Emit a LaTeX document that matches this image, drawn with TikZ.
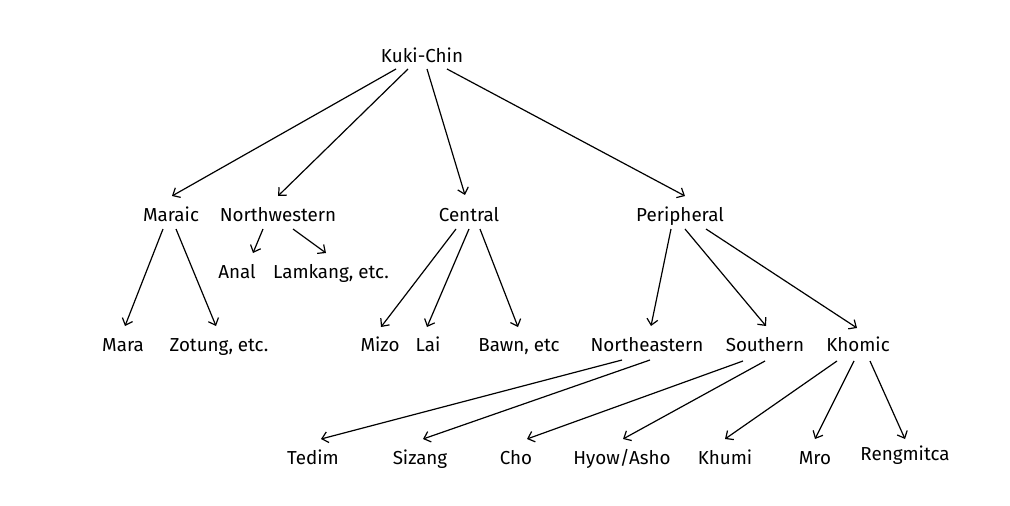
\documentclass[tikz,border=0pt]{standalone}
\usepackage{fontspec}
\setmainfont{Fira Sans}
\usetikzlibrary{arrows.meta}
\begin{document}
\begin{tikzpicture}[x=1pt,y=-1pt,
  lab/.style={anchor=base,inner sep=0pt,font=\fontsize{18.8}{22}\selectfont},
  link/.style={line width=1.2pt,-{Straight Barb[length=6pt,width=11pt]}}]
\useasboundingbox (0,0) rectangle (1010,506);
% level 1
\node[lab] (k) at (422,62) {Kuki-Chin};
% level 2
\node[lab] (mar) at (171,221) {Maraic};
\node[lab] (nw) at (278,221) {Northwestern};
\node[lab] (cen) at (469,221) {Central};
\node[lab] (per) at (680,221) {Peripheral};
\node[lab] (anal) at (237,278) {Anal};
\node[lab] (lam) at (331,278) {Lamkang, etc.};
% level 3
\node[lab] (mara) at (123,351) {Mara};
\node[lab] (zot) at (219,351) {Zotung, etc.};
\node[lab] (mizo) at (380,351) {Mizo};
\node[lab] (lai) at (428,351) {Lai};
\node[lab] (bawn) at (519,351) {Bawn, etc};
\node[lab] (ne) at (647,351) {Northeastern};
\node[lab] (sou) at (765,351) {Southern};
\node[lab] (kho) at (858,351) {Khomic};
% level 4
\node[lab] (ted) at (313,464) {Tedim};
\node[lab] (siz) at (420,464) {Sizang};
\node[lab] (cho) at (516,464) {Cho};
\node[lab] (hyo) at (622,464) {Hyow/Asho};
\node[lab] (khu) at (725,464) {Khumi};
\node[lab] (mro) at (815,464) {Mro};
\node[lab] (ren) at (905,460) {Rengmitca};
% connectors
\draw[link] ([shift={(-26,7)}]k.base) -- ([shift={(1,-25)}]mar.base);
\draw[link] ([shift={(-14,7)}]k.base) -- ([shift={(0,-25)}]nw.base);
\draw[link] ([shift={(5,7)}]k.base) -- ([shift={(-4,-26)}]cen.base);
\draw[link] ([shift={(25,7)}]k.base) -- ([shift={(5,-25)}]per.base);
\draw[link] ([shift={(-8,8)}]mar.base) -- ([shift={(2,-25)}]mara.base);
\draw[link] ([shift={(5,8)}]mar.base) -- ([shift={(-3,-25)}]zot.base);
\draw[link] ([shift={(-15,8)}]nw.base) -- ([shift={(16,-25)}]anal.base);
\draw[link] ([shift={(15,8)}]nw.base) -- ([shift={(-5,-25)}]lam.base);
\draw[link] ([shift={(-13,8)}]cen.base) -- ([shift={(1,-24)}]mizo.base);
\draw[link] ([shift={(0,8)}]cen.base) -- ([shift={(-1,-24)}]lai.base);
\draw[link] ([shift={(11,8)}]cen.base) -- ([shift={(-1,-24)}]bawn.base);
\draw[link] ([shift={(-9,8)}]per.base) -- ([shift={(4,-25)}]ne.base);
\draw[link] ([shift={(5,8)}]per.base) -- ([shift={(1,-25)}]sou.base);
\draw[link] ([shift={(26,8)}]per.base) -- ([shift={(-1,-23)}]kho.base);
\draw[link] ([shift={(-25,9)}]ne.base) -- ([shift={(8,-25)}]ted.base);
\draw[link] ([shift={(3,9)}]ne.base) -- ([shift={(3,-25)}]siz.base);
\draw[link] ([shift={(-22,10)}]sou.base) -- ([shift={(11,-25)}]cho.base);
\draw[link] ([shift={(0,10)}]sou.base) -- ([shift={(1,-25)}]hyo.base);
\draw[link] ([shift={(-21,10)}]kho.base) -- ([shift={(0,-25)}]khu.base);
\draw[link] ([shift={(-4,10)}]kho.base) -- ([shift={(0,-25)}]mro.base);
\draw[link] ([shift={(12,10)}]kho.base) -- ([shift={(0,-21)}]ren.base);
\end{tikzpicture}
\end{document}
